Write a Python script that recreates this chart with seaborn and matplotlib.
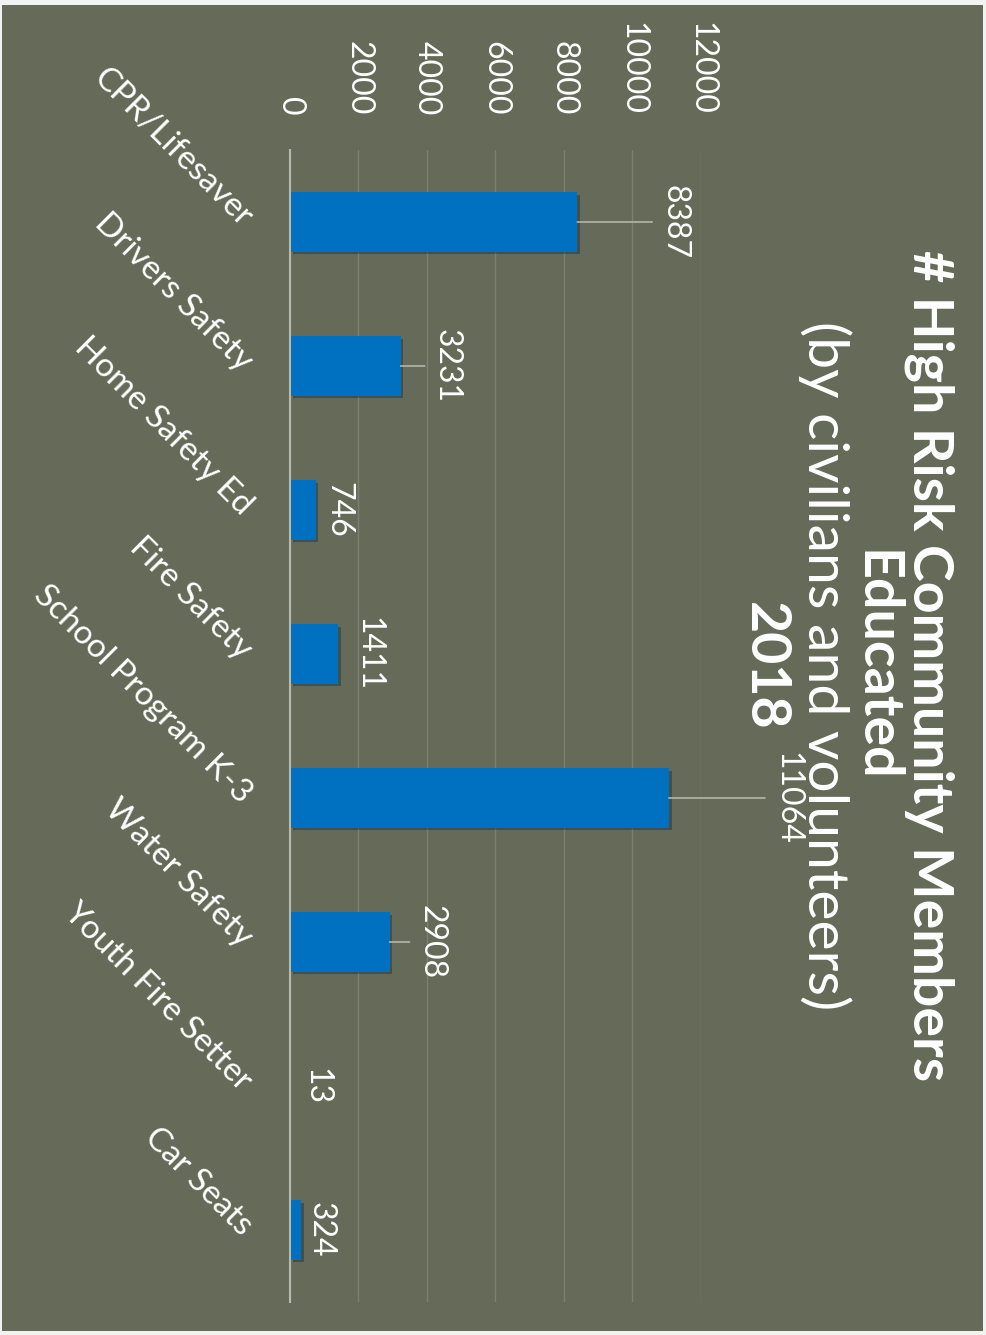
import matplotlib
matplotlib.use("Agg")
import matplotlib.pyplot as plt
import seaborn as sns
import pandas as pd
from matplotlib.patches import Rectangle
from matplotlib import patheffects as pe
from matplotlib.transforms import offset_copy

# ---- data -------------------------------------------------------------
categories = ["CPR/Lifesaver", "Drivers Safety", "Home Safety Ed", "Fire Safety",
              "School Program K-3", "Water Safety", "Youth Fire Setter", "Car Seats"]
members = [8387, 3231, 746, 1411, 11064, 2908, 13, 324]
value_ticks = [0, 2000, 4000, 6000, 8000, 10000, 12000]
title_lines = ["# High Risk Community Members", "Educated",
               "(by civilians and volunteers)", "2018"]

# ---- layout (pixels) --------------------------------------------------
W, H = 987, 1335
label_gap = [88, 37, 14, 21, 109, 33, 17, 11]   # gap between bar end and value label
BG = "#666a58"
BAR = "#0070c0"

sns.set_style("white")
plt.rcParams["font.family"] = ["Lato", "DejaVu Sans"]

fig = plt.figure(figsize=(W / 100, H / 100), dpi=100)
fig.patch.set_facecolor("#f2f2f2")
fig.patches.append(Rectangle((2 / W, 4 / H), (983 - 2) / W, (1331 - 5) / H,
                             transform=fig.transFigure, facecolor=BG,
                             edgecolor="none", zorder=-10))

ax = fig.add_axes([290 / W, 1 - 1302 / H, (701 - 290) / W, (1302 - 150) / H])
ax.set_facecolor("none")

df = pd.DataFrame({"Program": categories, "Members": members})
sns.barplot(data=df, x="Members", y="Program", orient="h", color=BAR,
            saturation=1, width=0.41, linewidth=0, edgecolor=BAR, ax=ax)

for p in ax.patches:
    p.set_linewidth(0)
    p.set_path_effects([pe.SimplePatchShadow(offset=(2, -2), alpha=0.35),
                        pe.Normal()])

ax.set_xlim(0, 12000)
ax.set_ylim(len(categories) - 0.5, -0.5)
ax.set_xlabel("")
ax.set_ylabel("")

ax.xaxis.tick_top()
ax.set_xticks(value_ticks)
ax.set_xticklabels([str(t) for t in value_ticks], fontsize=23, color="white")
ax.tick_params(axis="x", length=0, pad=25)
ax.tick_params(axis="y", length=0, pad=31, labelsize=24, labelcolor="white")
plt.setp(ax.get_xticklabels(), rotation=-90, ha="right", va="center",
         rotation_mode="anchor")
plt.setp(ax.get_yticklabels(), rotation=-45, ha="right", va="center",
         rotation_mode="anchor")

ax.grid(axis="x", color="#7d8070", lw=1)
ax.grid(axis="y", visible=False)
ax.set_axisbelow(True)
for side in ("top", "right", "bottom"):
    ax.spines[side].set_visible(False)
ax.spines["left"].set_color("#b8b9ae")
ax.spines["left"].set_linewidth(1.5)

# value labels with leader lines
for i, (v, gap) in enumerate(zip(members, label_gap)):
    tr = offset_copy(ax.transData, fig=fig, x=gap, y=0, units="dots")
    ax.text(v, i, f"{v}", transform=tr, rotation=-90, rotation_mode="anchor",
            ha="center", va="baseline", fontsize=23, color="white", clip_on=False)
    if gap > 25:
        ax.annotate("", xy=(v, i), xytext=((gap - 13) * 0.72, 0),
                    textcoords="offset points", annotation_clip=False,
                    arrowprops=dict(arrowstyle="-", color="#b5b6ac", lw=1.2,
                                    shrinkA=0, shrinkB=0))

# rotated title block
title_x = [914, 860, 808, 749]
title_w = ["bold", "bold", "normal", "bold"]
title_s = [40, 40, 41, 40]
for line, x, w, s in zip(title_lines, title_x, title_w, title_s):
    fig.text(x / W, 1 - 666 / H, line, rotation=-90, rotation_mode="anchor",
             ha="center", va="baseline", fontsize=s, fontweight=w, color="white")

fig.savefig("out.png", dpi=100, facecolor=fig.get_facecolor())
